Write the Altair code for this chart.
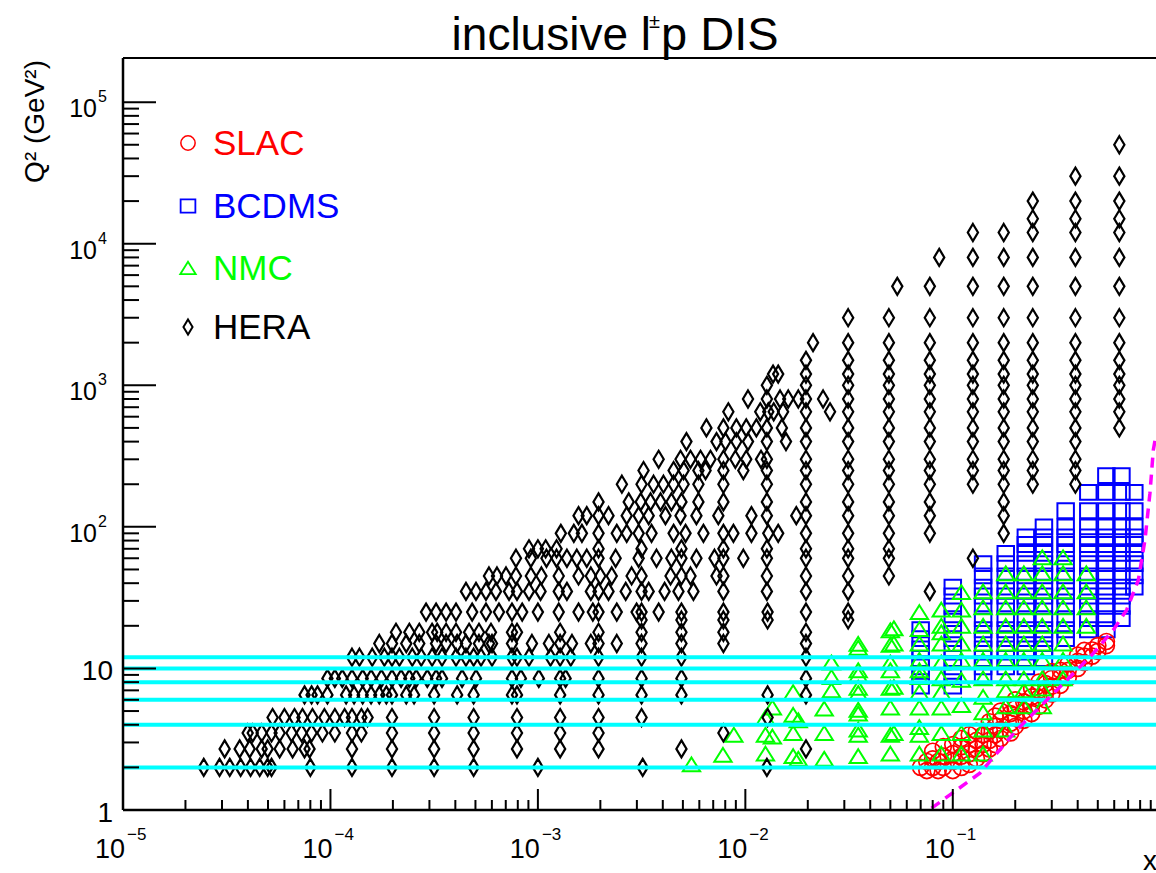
import altair as alt
import pandas as pd

FONT = "Liberation Sans"
W, H = 1033, 752
X_DOMAIN = [1e-5, 0.954]
Y_DOMAIN = [1, 2.05e5]

# ---------------- data ----------------
# HERA: rows of constant Q2 (GeV^2) -> x values (low-x part)
HERA_ROWS = {
    2.0: [2.45e-5, 2.92e-5, 3.27e-5, 3.69e-5, 4.12e-5, 4.56e-5, 4.98e-5, 5.2e-5, 8.0e-5, 1.27e-4, 1.98e-4, 3.16e-4, 4.9e-4, 1.0e-3, 3.2e-3, 1.27e-2],
    2.7: [3.09e-5, 3.65e-5, 4.08e-5, 4.66e-5, 4.98e-5, 5.69e-5, 6.57e-5, 7.5e-5, 7.93e-5, 1.27e-4, 1.98e-4, 3.16e-4, 4.9e-4, 7.93e-4, 1.28e-3, 1.96e-3, 4.92e-3],
    3.5: [3.99e-5, 4.22e-5, 4.66e-5, 5.2e-5, 5.69e-5, 6.49e-5, 7.26e-5, 8.11e-5, 9.15e-5, 1.05e-4, 1.27e-4, 1.41e-4, 1.98e-4, 3.16e-4, 4.9e-4, 7.93e-4, 1.28e-3, 1.96e-3, 7.84e-3],
    4.5: [5.26e-5, 6.0e-5, 6.71e-5, 7.33e-5, 8.19e-5, 9.35e-5, 1.05e-4, 1.17e-4, 1.27e-4, 1.41e-4, 1.51e-4, 1.98e-4, 3.16e-4, 4.9e-4, 7.93e-4, 1.28e-3, 1.96e-3, 3.16e-3, 1.28e-2],
    6.5: [7.5e-5, 8.11e-5, 8.66e-5, 9.67e-5, 1.19e-4, 1.30e-4, 1.43e-4, 1.57e-4, 1.72e-4, 1.86e-4, 1.98e-4, 2.32e-4, 2.53e-4, 3.16e-4, 4.08e-4, 4.9e-4, 7.5e-4, 7.93e-4, 1.28e-3, 1.96e-3, 3.16e-3, 4.92e-3, 1.28e-2],
    8.5: [9.67e-5, 1.05e-4, 1.14e-4, 1.27e-4, 1.43e-4, 1.57e-4, 1.76e-4, 1.98e-4, 2.19e-4, 2.4e-4, 2.59e-4, 2.93e-4, 3.23e-4, 3.45e-4, 4.31e-4, 5.03e-4, 7.5e-4, 8.28e-4, 1.01e-3, 1.28e-3, 1.36e-3, 1.96e-3, 3.16e-3, 4.92e-3],
    12.0: [1.27e-4, 1.38e-4, 1.59e-4, 1.82e-4, 1.98e-4, 2.15e-4, 2.48e-4, 2.74e-4, 3.09e-4, 3.45e-4, 4.03e-4, 4.5e-4, 4.9e-4, 5.32e-4, 6.01e-4, 7.5e-4, 7.93e-4, 9.06e-4, 1.15e-3, 1.28e-3, 1.44e-3, 1.96e-3, 3.16e-3, 4.92e-3],
    15.0: [1.72e-4, 1.98e-4, 2.32e-4, 2.68e-4, 3.23e-4, 3.61e-4, 4.08e-4, 4.5e-4, 5.2e-4, 5.81e-4, 6.01e-4, 7.5e-4, 9.36e-4, 1.13e-3, 1.28e-3, 1.46e-3, 1.8e-3, 1.96e-3, 2.4e-3, 3.16e-3, 4.92e-3, 7.84e-3],
    18.0: [2.07e-4, 2.4e-4, 2.68e-4, 3.09e-4, 3.27e-4, 3.61e-4, 4.03e-4, 4.66e-4, 5.2e-4, 5.94e-4, 7.5e-4, 7.93e-4, 1.28e-3, 1.96e-3, 3.16e-3, 4.92e-3, 7.84e-3],
    22.0: [3.16e-3, 4.92e-3, 7.84e-3, 1.28e-2],
    25.0: [2.89e-4, 3.23e-4, 3.61e-4, 4.03e-4, 4.82e-4, 5.62e-4, 6.49e-4, 7.5e-4, 8.4e-4, 1.0e-3, 1.26e-3, 1.57e-3, 1.84e-3, 1.96e-3, 2.4e-3, 2.99e-3, 3.16e-3, 3.82e-3, 4.92e-3, 7.84e-3, 1.28e-2],
    35.0: [4.5e-4, 5.03e-4, 5.62e-4, 6.28e-4, 7.26e-4, 7.93e-4, 9.06e-4, 1.03e-3, 1.26e-3, 1.38e-3, 1.8e-3, 1.96e-3, 2.19e-3, 2.65e-3, 3.16e-3, 3.42e-3, 4.08e-3, 4.76e-3, 5.62e-3, 7.84e-3, 1.27e-2],
    45.0: [5.81e-4, 6.35e-4, 7.02e-4, 7.84e-4, 9.25e-4, 1.04e-3, 1.26e-3, 1.57e-3, 1.8e-3, 2.0e-3, 2.27e-3, 2.83e-3, 3.16e-3, 4.36e-3, 4.92e-3, 5.44e-3, 7.26e-3, 7.84e-3, 1.27e-2],
    60.0: [7.84e-4, 9.25e-4, 1.10e-3, 1.23e-3, 1.38e-3, 1.54e-3, 1.72e-3, 1.96e-3, 2.37e-3, 3.06e-3, 3.73e-3, 4.4e-3, 4.92e-3, 5.81e-3, 7.1e-3, 7.84e-3, 9.78e-3, 1.27e-2],
    70.0: [9.06e-4, 1.0e-3, 1.09e-3, 1.23e-3, 1.96e-3, 3.16e-3, 4.92e-3, 7.84e-3, 1.27e-2],
    90.0: [1.29e-3, 1.49e-3, 1.63e-3, 1.96e-3, 2.4e-3, 2.68e-3, 3.06e-3, 3.53e-3, 4.51e-3, 5.15e-3, 6.28e-3, 7.84e-3, 8.76e-3, 1.07e-2, 1.29e-2, 1.44e-2],
    120.0: [1.57e-3, 1.72e-3, 1.96e-3, 2.19e-3, 2.68e-3, 3.06e-3, 3.42e-3, 4.12e-3, 4.87e-3, 5.81e-3, 7.41e-3, 1.07e-2, 1.27e-2, 1.76e-2],
    150.0: [1.96e-3, 2.74e-3, 3.13e-3, 3.49e-3, 3.9e-3, 4.4e-3, 4.92e-3, 5.94e-3, 7.84e-3, 1.27e-2],
    200.0: [2.54e-3, 3.16e-3, 3.61e-3, 4.03e-3, 4.51e-3, 5.04e-3, 5.94e-3, 7.84e-3, 1.27e-2],
    250.0: [3.23e-3, 4.51e-3, 5.04e-3, 5.94e-3, 6.43e-3, 7.84e-3, 9.78e-3, 1.27e-2],
    300.0: [3.82e-3, 4.87e-3, 5.44e-3, 6.08e-3, 6.79e-3, 7.84e-3, 8.95e-3, 1.01e-2, 1.19e-2, 1.27e-2],
    400.0: [5.2e-3, 7.26e-3, 8.02e-3, 9.05e-3, 1.03e-2, 1.27e-2, 1.57e-2],
    500.0: [6.49e-3, 7.84e-3, 9.05e-3, 1.01e-2, 1.13e-2, 1.27e-2, 1.5e-2],
    650.0: [8.28e-3, 1.18e-2, 1.29e-2, 1.37e-2, 1.52e-2, 2.56e-2],
    800.0: [1.03e-2, 1.27e-2, 1.47e-2, 1.61e-2, 1.8e-2, 2.37e-2],
    1000.0: [1.27e-2],
    1200.0: [1.36e-2, 1.44e-2],
    2000.0: [2.12e-2],
}
# HERA: columns of constant x -> Q2 values (high-x part)
HERA_COLS = {
    0.0196: [2.7, 6.5, 8.5, 12, 15, 18, 25, 35, 45, 60, 70, 90, 120, 150, 200, 250, 300, 400, 500, 650, 800, 1000, 1200, 1500],
    0.0313: [22, 25, 35, 45, 60, 70, 90, 120, 150, 200, 250, 300, 400, 500, 650, 800, 1000, 1200, 1500, 2000, 3000],
    0.0492: [45, 60, 70, 90, 120, 150, 200, 250, 300, 400, 500, 650, 800, 1000, 1200, 1500, 2000, 3000],
    0.054: [5000],
    0.0775: [35, 90, 120, 150, 200, 250, 300, 400, 500, 650, 800, 1000, 1200, 1500, 2000, 3000, 5000],
    0.086: [8000],
    0.125: [60, 200, 250, 300, 400, 500, 650, 800, 1000, 1200, 1500, 2000, 3000, 5000, 8000, 12000],
    0.176: [90, 120, 150, 200, 250, 300, 400, 500, 650, 800, 1000, 1200, 1500, 2000, 3000, 5000, 8000, 12000],
    0.243: [200, 250, 300, 400, 500, 650, 800, 1000, 1200, 1500, 2000, 3000, 5000, 8000, 12000, 15000, 20000],
    0.39: [200, 250, 300, 400, 500, 650, 800, 1000, 1200, 1500, 2000, 3000, 5000, 8000, 12000, 15000, 20000, 30000],
    0.635: [500, 650, 800, 1000, 1200, 1500, 2000, 3000, 5000, 8000, 12000, 15000, 20000, 30000, 50000],
}
# NMC: x -> Q2 values
NMC = {
    0.0055: [2.1],
    0.0078: [2.45],
    0.0088: [3.4],
    0.0125: [2.5, 3.4, 4.5],
    0.0135: [3.3, 5.3],
    0.017: [2.4, 3.5, 4.7, 6.8],
    0.018: [2.3, 4.3],
    0.024: [2.3, 3.5, 5.2],
    0.026: [7.0, 8.7, 11.0],
    0.035: [2.4, 3.4, 3.7, 4.8, 5.1, 6.7, 7.3, 9.0, 9.7, 14.0, 14.9],
    0.05: [2.5, 3.4, 5.3, 7.3, 9.7, 11.0, 14.7, 18.6],
    0.052: [3.5, 7.4, 15.0, 19.2],
    0.069: [2.5, 3.4, 3.85, 5.3, 6.8, 8.7, 9.7, 11.5, 15.0, 19.0, 25.0],
    0.088: [2.5, 3.5, 5.3, 6.8, 8.5, 11.0, 15.0, 18.0, 20.0, 26.0],
    0.11: [2.5, 3.5, 5.5, 8.3, 11.5, 15.0, 20.0, 26.0, 34.6],
    0.14: [2.5, 3.7, 4.9, 6.3, 8.5, 11.5, 15.0, 20.0, 27.0, 35.0],
    0.18: [3.7, 5.4, 7.0, 8.5, 11.5, 15.0, 20.0, 27.0, 35.0, 47.0],
    0.22: [5.4, 7.0, 8.5, 11.5, 15.0, 20.0, 27.0, 35.0, 47.0],
    0.27: [5.4, 7.2, 8.5, 11.5, 15.0, 20.0, 27.0, 35.0, 47.0, 61.0],
    0.34: [8.5, 11.5, 15.0, 20.0, 27.0, 35.0, 47.0, 61.0],
    0.44: [20.0, 27.0, 35.0, 47.0],
}
# BCDMS: x -> Q2 values
BCDMS = {
    0.07: [7.5, 8.75, 10.25, 11.75, 13.75, 16.25, 18.75],
    0.10: [7.5, 8.75, 10.25, 11.75, 13.75, 16.25, 18.75, 22.5, 27.5, 32.5, 37.5],
    0.14: [8.75, 10.25, 11.75, 13.75, 16.25, 18.75, 22.5, 27.5, 32.5, 37.5, 45, 55],
    0.18: [10.25, 11.75, 13.75, 16.25, 18.75, 22.5, 27.5, 32.5, 37.5, 45, 55, 65],
    0.225: [10.25, 11.75, 13.75, 16.25, 18.75, 22.5, 27.5, 32.5, 37.5, 45, 55, 65, 75, 85],
    0.275: [11.75, 13.75, 16.25, 18.75, 22.5, 27.5, 32.5, 37.5, 45, 55, 65, 75, 85, 100],
    0.35: [16.25, 18.75, 22.5, 27.5, 32.5, 37.5, 45, 55, 65, 75, 85, 100, 130],
    0.45: [18.75, 22.5, 27.5, 32.5, 37.5, 45, 55, 65, 75, 85, 100, 130, 175],
    0.55: [18.75, 22.5, 27.5, 32.5, 37.5, 45, 55, 65, 75, 85, 100, 130, 175, 230],
    0.65: [22.5, 27.5, 32.5, 37.5, 45, 55, 65, 75, 85, 100, 130, 175, 230],
    0.75: [37.5, 45, 55, 65, 75, 85, 100, 130, 175],
}
# SLAC: x -> Q2 values
SLAC = {
    0.07: [2.0],
    0.075: [1.9, 2.2],
    0.08: [2.0, 2.3, 2.6],
    0.085: [1.9, 2.2],
    0.09: [2.0, 2.4, 2.8],
    0.1: [1.9, 2.2, 2.5, 2.9],
    0.11: [2.0, 2.4, 2.8, 3.2],
    0.12: [2.1, 2.5, 2.9, 3.4],
    0.13: [2.3, 2.7, 3.1, 3.6],
    0.14: [2.5, 2.9, 3.4],
    0.15: [2.7, 3.1, 3.6, 4.2],
    0.16: [2.9, 3.4, 3.9, 4.6],
    0.17: [3.2, 3.7, 4.3, 5.0],
    0.19: [3.5, 4.1, 4.8, 5.5],
    0.2: [3.9, 4.5, 5.2, 6.0],
    0.22: [4.3, 5.0, 5.8],
    0.24: [4.8, 5.5, 6.3, 7.2],
    0.26: [5.4, 6.2, 7.0, 8.0],
    0.28: [6.0, 6.8, 7.8],
    0.3: [6.6, 7.5, 8.5, 9.5],
    0.33: [7.6, 8.6, 9.7],
    0.36: [8.6, 9.7, 10.8],
    0.4: [10.0, 11.2, 12.4],
    0.43: [11.0, 12.2, 13.4],
    0.47: [12.2, 13.5],
    0.5: [13.2, 14.5],
    0.55: [14.5, 15.5],
}
# horizontal cyan lines (Q2) and magenta dashed kinematic cut
CYAN_Q2 = [2, 4, 6, 8, 10, 12]
CUT_X = [0.079, 0.135, 0.203, 0.284, 0.381, 0.476, 0.594, 0.689, 0.784, 0.844, 0.892, 0.926, 0.95]
CUT_Q2 = [1.03, 1.82, 3.67, 5.98, 9.2, 12.8, 18.7, 25.9, 42.0, 80.7, 173.0, 349.0, 430.0]

# axis ticks and labels
Y_MAJOR = [1, 10, 100, 1e3, 1e4, 1e5]
X_MAJOR = [1e-5, 1e-4, 1e-3, 1e-2, 1e-1]
MINOR_MULT = [2, 3, 4, 5, 6, 7, 8, 9]
Y_DECADES = [1, 10, 100, 1e3, 1e4]
X_DECADES = [1e-5, 1e-4, 1e-3, 1e-2, 1e-1]
Y_PLAIN_LABELS = ["1", "10"]
Y_EXP_LABELS = ["2", "3", "4", "5"]
X_EXP_LABELS = ["\u22125", "\u22124", "\u22123", "\u22122", "\u22121"]

LEG_NAMES = ["SLAC", "BCDMS", "NMC", "HERA"]
LEG_COLORS = ["#ff0000", "#0000ff", "#00ff00", "#000000"]

# ---------------- tables ----------------
def from_rows(d):
    return pd.DataFrame([{"x": x, "q2": q} for q, xl in d.items() for x in xl])

def from_cols(d):
    return pd.DataFrame([{"x": x, "q2": q} for x, ql in d.items() for q in ql])

hera_df = pd.concat([from_rows(HERA_ROWS), from_cols(HERA_COLS)], ignore_index=True)
nmc_df = from_cols(NMC)
bcdms_df = from_cols(BCDMS)
slac_df = from_cols(SLAC)
cyan_df = pd.DataFrame({"q2": CYAN_Q2})
cut_df = pd.DataFrame({"x": CUT_X, "q2": CUT_Q2})
y_minor = [m * d for d in Y_DECADES for m in MINOR_MULT]
x_minor = [m * d for d in X_DECADES for m in MINOR_MULT if m * d < X_DOMAIN[1]]

xs = alt.Scale(type="log", domain=X_DOMAIN, nice=False)
ys = alt.Scale(type="log", domain=Y_DOMAIN, nice=False)
X = alt.X("x:Q", scale=xs, axis=None)
Y = alt.Y("q2:Q", scale=ys, axis=None)
one = pd.DataFrame({"a": [0]})

DIAMOND = "M0,-1L0.6,0L0,1L-0.6,0Z"
TRIANGLE = "M0,-0.8L1,0.8L-1,0.8Z"
RECT = "M-1,-0.9H1V0.9H-1Z"

SHAPES = {"SLAC": ("circle", 256, 1.7), "BCDMS": (RECT, 272, 2.0),
          "NMC": (TRIANGLE, 300, 2.0), "HERA": (DIAMOND, 289, 2.2)}


def pts(df, name, color):
    shape, size, sw = SHAPES[name]
    return alt.Chart(df).mark_point(shape=shape, size=size, filled=False, color=color,
                                    strokeWidth=sw, opacity=1, clip=True).encode(x=X, y=Y)


layers = [
    pts(bcdms_df, "BCDMS", "#0000ff"),
    pts(slac_df, "SLAC", "#ff0000"),
    pts(nmc_df, "NMC", "#00ff00"),
    pts(hera_df, "HERA", "#000000"),
    alt.Chart(cyan_df).mark_rule(color="#00ffff", strokeWidth=4).encode(
        y=Y, x=alt.value(0), x2=alt.value(W)),
    alt.Chart(cut_df).mark_line(color="#ff00ff", strokeWidth=3.5, strokeDash=[10, 7], clip=True).encode(
        x=X, y=Y),
]

# frame (left, bottom, top)
layers += [
    alt.Chart(one).mark_rule(color="black", strokeWidth=2.5).encode(x=alt.value(0), y=alt.value(0), y2=alt.value(H)),
    alt.Chart(one).mark_rule(color="black", strokeWidth=2.5).encode(y=alt.value(H), x=alt.value(0), x2=alt.value(W)),
    alt.Chart(one).mark_rule(color="black", strokeWidth=2).encode(y=alt.value(0), x=alt.value(0), x2=alt.value(W)),
]

# inward ticks
layers += [
    alt.Chart(pd.DataFrame({"q2": Y_MAJOR})).mark_rule(color="black", strokeWidth=2).encode(
        y=Y, x=alt.value(0), x2=alt.value(33)),
    alt.Chart(pd.DataFrame({"q2": y_minor})).mark_rule(color="black", strokeWidth=2).encode(
        y=Y, x=alt.value(0), x2=alt.value(16)),
    alt.Chart(pd.DataFrame({"x": X_MAJOR})).mark_rule(color="black", strokeWidth=2).encode(
        x=X, y=alt.value(H), y2=alt.value(H - 21)),
    alt.Chart(pd.DataFrame({"x": x_minor})).mark_rule(color="black", strokeWidth=2).encode(
        x=X, y=alt.value(H), y2=alt.value(H - 10)),
]

# tick labels
ylp = pd.DataFrame({"q2": Y_MAJOR[:2], "t": Y_PLAIN_LABELS})
yle = pd.DataFrame({"q2": Y_MAJOR[2:], "b": ["10"] * 4, "e": Y_EXP_LABELS})
xle = pd.DataFrame({"x": X_MAJOR, "b": ["10"] * 5, "e": X_EXP_LABELS})
layers += [
    alt.Chart(ylp).mark_text(align="right", baseline="alphabetic", font=FONT, fontSize=28, dy=12).encode(
        y=Y, x=alt.value(-10), text="t:N"),
    alt.Chart(yle).mark_text(align="right", baseline="alphabetic", font=FONT, fontSize=25, dy=15).encode(
        y=Y, x=alt.value(-26), text="b:N"),
    alt.Chart(yle).mark_text(align="left", baseline="alphabetic", font=FONT, fontSize=16, dy=0).encode(
        y=Y, x=alt.value(-25), text="e:N"),
    alt.Chart(xle).mark_text(align="right", baseline="alphabetic", font=FONT, fontSize=27, dx=2).encode(
        x=X, y=alt.value(800), text="b:N"),
    alt.Chart(xle).mark_text(align="left", baseline="alphabetic", font=FONT, fontSize=17, dx=4).encode(
        x=X, y=alt.value(782), text="e:N"),
]

# axis titles and chart title
layers += [
    alt.Chart(one).mark_text(text="Q\u00b2 (GeV\u00b2)", angle=270, align="right", baseline="alphabetic",
                             font=FONT, fontSize=28).encode(x=alt.value(-79), y=alt.value(2)),
    alt.Chart(one).mark_text(text="x", align="center", baseline="alphabetic", font=FONT, fontSize=28).encode(
        x=alt.value(1027), y=alt.value(812)),
    alt.Chart(one).mark_text(text="inclusive l", align="right", baseline="alphabetic", font=FONT, fontSize=46).encode(
        x=alt.value(528), y=alt.value(-8)),
    alt.Chart(one).mark_text(text="\u00b1", align="left", baseline="alphabetic", font=FONT, fontSize=20).encode(
        x=alt.value(526), y=alt.value(-30)),
    alt.Chart(one).mark_text(text="p DIS", align="left", baseline="alphabetic", font=FONT, fontSize=47).encode(
        x=alt.value(538), y=alt.value(-8)),
]

# legend
LEG_Y = [85, 148, 210, 269]
for name, col, ly in zip(LEG_NAMES, LEG_COLORS, LEG_Y):
    shape, size, sw = SHAPES[name]
    layers.append(alt.Chart(one).mark_point(shape=shape, size=size * 0.8, filled=False, color=col,
                                            strokeWidth=sw * 0.9, opacity=1).encode(x=alt.value(65), y=alt.value(ly)))
    layers.append(alt.Chart(one).mark_text(text=name, align="left", baseline="alphabetic", font=FONT,
                                           fontSize=35, color=col).encode(x=alt.value(90), y=alt.value(ly + 12)))

chart = alt.layer(*layers).properties(
    width=W, height=H,
    autosize=alt.AutoSizeParams(type="none"),
    padding={"left": 123, "top": 58, "right": 0, "bottom": 60},
    background="white",
).configure_view(stroke=None)

chart.save("out.html", embed_options={"renderer": "svg", "actions": False})
